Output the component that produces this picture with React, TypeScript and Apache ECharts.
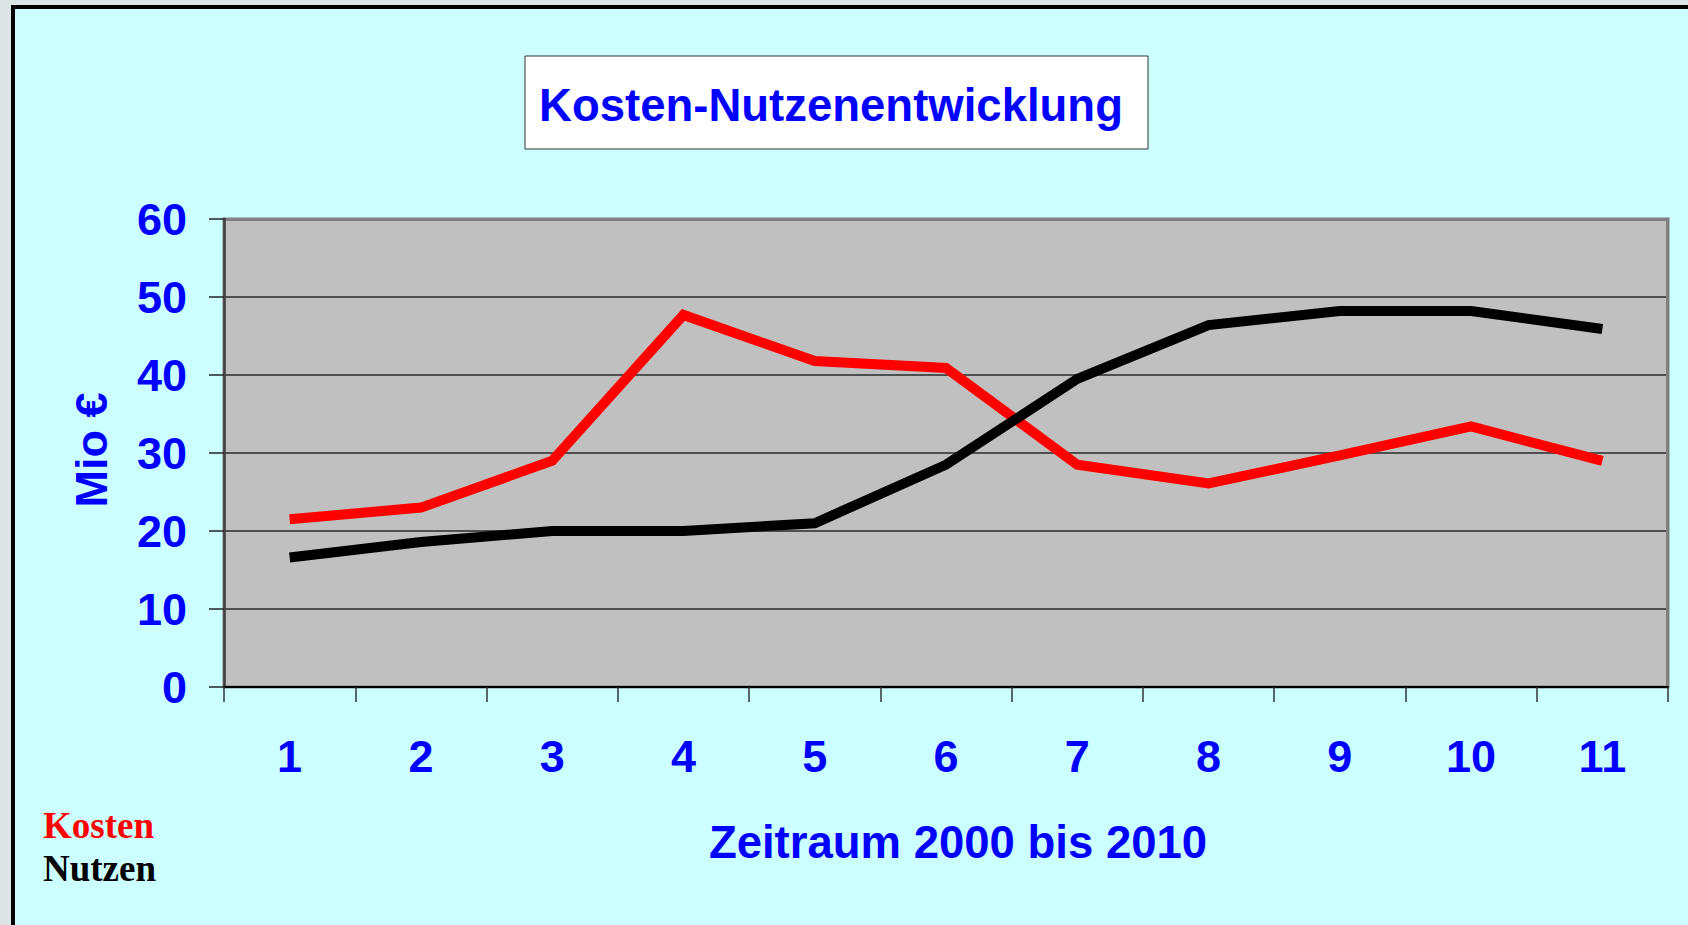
import React, { useEffect, useRef } from "react";
import * as echarts from "echarts";

const categories = ["1", "2", "3", "4", "5", "6", "7", "8", "9", "10", "11"];
const kosten = [21.5, 23.0, 29.0, 47.7, 41.8, 40.9, 28.5, 26.1, 29.7, 33.4, 29.0];
const nutzen = [16.6, 18.6, 20.0, 20.0, 21.0, 28.5, 39.5, 46.4, 48.2, 48.2, 45.9];
const seriesNames = ["Kosten", "Nutzen"];
const titleText = "Kosten-Nutzenentwicklung";
const xAxisName = "Zeitraum 2000 bis 2010";
const yAxisName = "Mio €";

const SANS = "'Liberation Sans', Arial, Helvetica, sans-serif";
const SERIF = "'Liberation Serif', 'Times New Roman', serif";
const BLUE = "#0000ff";

export default function App() {
  const ref = useRef<HTMLDivElement>(null);
  useEffect(() => {
    if (!ref.current) return;
    const chart = echarts.init(ref.current, null, { renderer: "svg" });
    chart.setOption({
      animation: false,
      backgroundColor: "#dce5e5",
      title: {
        text: titleText,
        left: 831,
        top: 82,
        padding: 0,
        textAlign: "center",
        textStyle: { fontFamily: SANS, fontSize: 45.5, fontWeight: "bold", color: BLUE },
      },
      legend: {
        data: [
          { name: seriesNames[0], textStyle: { color: "#ff0000" } },
          { name: seriesNames[1], textStyle: { color: "#000000" } },
        ],
        orient: "vertical",
        left: 38,
        top: 804,
        icon: "none",
        itemWidth: 0,
        itemHeight: 0,
        itemGap: 0,
        padding: 0,
        selectedMode: false,
        textStyle: { fontFamily: SERIF, fontSize: 37, fontWeight: "bold", lineHeight: 43 },
      },
      grid: {
        left: 224,
        top: 219,
        width: 1444,
        height: 468,
        show: true,
        backgroundColor: "#c0c0c0",
        borderColor: "#808080",
        borderWidth: 3,
      },
      xAxis: {
        type: "category",
        data: categories,
        boundaryGap: true,
        axisLine: { show: true, lineStyle: { color: "#000000", width: 2 } },
        axisTick: { show: true, length: 15, inside: false, alignWithLabel: false, lineStyle: { color: "#333333", width: 1.5 } },
        axisLabel: { margin: 47, fontFamily: SANS, fontSize: 45, fontWeight: "bold", color: BLUE },
        splitLine: { show: false },
      },
      yAxis: {
        type: "value",
        min: 0,
        max: 60,
        interval: 10,
        axisLine: { show: true, lineStyle: { color: "#404040", width: 2.5 } },
        axisTick: { show: true, length: 15, inside: false, lineStyle: { color: "#222222", width: 1.5 } },
        axisLabel: { margin: 37, fontFamily: SANS, fontSize: 45, fontWeight: "bold", color: BLUE },
        splitLine: { show: true, lineStyle: { color: "#2a2a2a", width: 1.5 } },
      },
      series: [
        {
          name: seriesNames[0],
          type: "line",
          data: kosten,
          symbol: "none",
          color: "#ff0000",
          lineStyle: { color: "#ff0000", width: 10, cap: "butt", join: "miter" },
          z: 3,
        },
        {
          name: seriesNames[1],
          type: "line",
          data: nutzen,
          symbol: "none",
          color: "#000000",
          lineStyle: { color: "#000000", width: 10, cap: "butt", join: "miter" },
          z: 4,
        },
      ],
      graphic: [
        {
          type: "rect",
          z: -10,
          shape: { x: 13, y: 7, width: 1720, height: 960 },
          style: { fill: "#ccffff", stroke: "#000000", lineWidth: 4 },
        },
        {
          type: "rect",
          z: -5,
          shape: { x: 525, y: 56, width: 623, height: 93 },
          style: { fill: "#ffffff", stroke: "#333333", lineWidth: 1 },
        },
        {
          type: "polyline",
          z: 5,
          shape: { points: [[226, 219.5], [1667.5, 219.5], [1667.5, 686]] },
          style: { stroke: "#808080", lineWidth: 3, fill: null },
        },
        {
          type: "text",
          z: 10,
          x: 958,
          y: 842,
          style: {
            text: xAxisName,
            fontFamily: SANS,
            fontSize: 45.5,
            fontWeight: "bold",
            fill: BLUE,
            textAlign: "center",
            textVerticalAlign: "middle",
          },
        },
        {
          type: "text",
          z: 10,
          x: 91,
          y: 450,
          rotation: Math.PI / 2,
          style: {
            text: yAxisName,
            fontFamily: SANS,
            fontSize: 45,
            fontWeight: "bold",
            fill: BLUE,
            textAlign: "center",
            textVerticalAlign: "middle",
          },
        },
      ],
    });
    return () => chart.dispose();
  }, []);
  return (
    <div
      ref={ref}
      style={{ position: "absolute", left: 0, top: 0, width: 1688, height: 925 }}
    />
  );
}
